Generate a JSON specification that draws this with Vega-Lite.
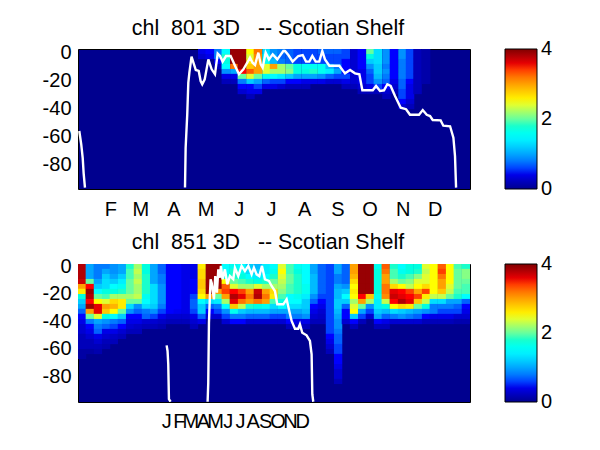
{"$schema":"https://vega.github.io/schema/vega-lite/v6.json","padding":{"left":41,"top":17,"right":0,"bottom":0},"background":"white","spacing":75,"bounds":"flush",
"config":{"font":"Liberation Sans","view":{"stroke":"black","strokeWidth":1},"title":{"font":"Liberation Sans","fontSize":21.4,"fontWeight":"normal","color":"black","anchor":"middle","offset":3,"dx":-6},"axis":{"labelFont":"Liberation Sans","labelFontSize":20,"labelColor":"black","grid":false,"domain":false,"ticks":false,"title":null,"labelOverlap":false},"legend":{"labelFont":"Liberation Sans","labelFontSize":20,"labelColor":"black"}},
"resolve":{"scale":{"color":"independent"},"legend":{"color":"independent"}},
"vconcat":[
{"title":"chl\u00a0\u00a0801 3D\u00a0\u00a0\u00a0-- Scotian Shelf","width":392,"height":140,"view":{"fill":"#00008f"},
"layer":[
{"data":{"values":[
{"d":116,"z":-1.8,"v":0.4},{"d":116,"z":-5.4,"v":0.3},{"d":123,"z":-1.8,"v":0.5},{"d":123,"z":-5.4,"v":0.4},{"d":131,"z":-1.8,"v":0.8},{"d":131,"z":-5.4,"v":0.8},{"d":131,"z":-8.9,"v":0.5},{"d":131,"z":-12.5,"v":0.2},
{"d":138,"z":-1.8,"v":1.5},{"d":138,"z":-5.4,"v":1.8},{"d":138,"z":-8.9,"v":1.7},{"d":138,"z":-12.5,"v":1.5},{"d":138,"z":-16.1,"v":0.9},{"d":138,"z":-19.6,"v":0.4},{"d":138,"z":-23.2,"v":0.2},
{"d":146,"z":-1.8,"v":3.9},{"d":146,"z":-5.4,"v":3.9},{"d":146,"z":-8.9,"v":3.9},{"d":146,"z":-12.5,"v":3.2},{"d":146,"z":-16.1,"v":1},{"d":146,"z":-19.6,"v":0.4},{"d":146,"z":-23.2,"v":0.2},
{"d":153,"z":-1.8,"v":3.9},{"d":153,"z":-5.4,"v":3.9},{"d":153,"z":-8.9,"v":3.9},{"d":153,"z":-12.5,"v":3.9},{"d":153,"z":-16.1,"v":3.5},{"d":153,"z":-19.6,"v":2},{"d":153,"z":-23.2,"v":0.8},{"d":153,"z":-26.8,"v":0.5},{"d":153,"z":-30.4,"v":0.3},
{"d":161,"z":-1.8,"v":2.5},{"d":161,"z":-5.4,"v":2.4},{"d":161,"z":-8.9,"v":2.6},{"d":161,"z":-12.5,"v":2.8},{"d":161,"z":-16.1,"v":3.3},{"d":161,"z":-19.6,"v":2.4},{"d":161,"z":-23.2,"v":1.2},{"d":161,"z":-26.8,"v":0.5},{"d":161,"z":-30.4,"v":0.4},{"d":161,"z":-33.9,"v":0.2},
{"d":168,"z":-1.8,"v":3.2},{"d":168,"z":-5.4,"v":3.1},{"d":168,"z":-8.9,"v":3},{"d":168,"z":-12.5,"v":3},{"d":168,"z":-16.1,"v":3},{"d":168,"z":-19.6,"v":2},{"d":168,"z":-23.2,"v":1},{"d":168,"z":-26.8,"v":0.6},{"d":168,"z":-30.4,"v":0.4},
{"d":176,"z":-1.8,"v":1.3},{"d":176,"z":-5.4,"v":1.6},{"d":176,"z":-8.9,"v":1.6},{"d":176,"z":-12.5,"v":2.4},{"d":176,"z":-16.1,"v":2.4},{"d":176,"z":-19.6,"v":1.6},{"d":176,"z":-23.2,"v":0.7},{"d":176,"z":-26.8,"v":0.4},
{"d":183,"z":-1.8,"v":0.9},{"d":183,"z":-5.4,"v":1},{"d":183,"z":-8.9,"v":1.1},{"d":183,"z":-12.5,"v":3},{"d":183,"z":-16.1,"v":2.2},{"d":183,"z":-19.6,"v":1.5},{"d":183,"z":-23.2,"v":0.6},{"d":183,"z":-26.8,"v":0.4},
{"d":190,"z":-1.8,"v":0.8},{"d":190,"z":-5.4,"v":0.7},{"d":190,"z":-8.9,"v":0.8},{"d":190,"z":-12.5,"v":2.2},{"d":190,"z":-16.1,"v":2.2},{"d":190,"z":-19.6,"v":1.4},{"d":190,"z":-23.2,"v":0.6},{"d":190,"z":-26.8,"v":0.3},
{"d":198,"z":-1.8,"v":0.7},{"d":198,"z":-5.4,"v":0.7},{"d":198,"z":-8.9,"v":0.7},{"d":198,"z":-12.5,"v":2},{"d":198,"z":-16.1,"v":2.1},{"d":198,"z":-19.6,"v":1.2},{"d":198,"z":-23.2,"v":0.5},{"d":198,"z":-26.8,"v":0.2},
{"d":205,"z":-1.8,"v":0.6},{"d":205,"z":-5.4,"v":0.6},{"d":205,"z":-8.9,"v":0.6},{"d":205,"z":-12.5,"v":1.7},{"d":205,"z":-16.1,"v":1.7},{"d":205,"z":-19.6,"v":1},{"d":205,"z":-23.2,"v":0.5},{"d":205,"z":-26.8,"v":0.2},
{"d":213,"z":-1.8,"v":0.6},{"d":213,"z":-5.4,"v":0.6},{"d":213,"z":-8.9,"v":0.6},{"d":213,"z":-12.5,"v":1.6},{"d":213,"z":-16.1,"v":1.7},{"d":213,"z":-19.6,"v":1},{"d":213,"z":-23.2,"v":0.4},{"d":213,"z":-26.8,"v":0.2},
{"d":220,"z":-1.8,"v":0.6},{"d":220,"z":-5.4,"v":0.6},{"d":220,"z":-8.9,"v":0.6},{"d":220,"z":-12.5,"v":1.6},{"d":220,"z":-16.1,"v":1.8},{"d":220,"z":-19.6,"v":1},{"d":220,"z":-23.2,"v":0.4},
{"d":228,"z":-1.8,"v":0.7},{"d":228,"z":-5.4,"v":0.6},{"d":228,"z":-8.9,"v":0.6},{"d":228,"z":-12.5,"v":1.6},{"d":228,"z":-16.1,"v":1.6},{"d":228,"z":-19.6,"v":0.9},{"d":228,"z":-23.2,"v":0.4},
{"d":235,"z":-1.8,"v":0.7},{"d":235,"z":-5.4,"v":0.6},{"d":235,"z":-8.9,"v":0.6},{"d":235,"z":-12.5,"v":1.1},{"d":235,"z":-16.1,"v":1.4},{"d":235,"z":-19.6,"v":0.7},{"d":235,"z":-23.2,"v":0.3},
{"d":243,"z":-1.8,"v":0.7},{"d":243,"z":-5.4,"v":0.6},{"d":243,"z":-8.9,"v":0.6},{"d":243,"z":-12.5,"v":0.8},{"d":243,"z":-16.1,"v":1},{"d":243,"z":-19.6,"v":0.6},{"d":243,"z":-23.2,"v":0.3},
{"d":250,"z":-1.8,"v":0.6},{"d":250,"z":-5.4,"v":0.6},{"d":250,"z":-8.9,"v":0.5},{"d":250,"z":-12.5,"v":0.5},{"d":250,"z":-16.1,"v":0.5},{"d":250,"z":-19.6,"v":0.6},{"d":250,"z":-23.2,"v":0.4},{"d":250,"z":-26.8,"v":0.2},
{"d":258,"z":-1.8,"v":0.3},{"d":258,"z":-5.4,"v":0.3},{"d":258,"z":-8.9,"v":0.3},{"d":258,"z":-12.5,"v":0.3},{"d":258,"z":-16.1,"v":0.3},{"d":258,"z":-19.6,"v":0.3},{"d":258,"z":-23.2,"v":0.3},{"d":258,"z":-26.8,"v":0.2},
{"d":265,"z":-1.8,"v":0.5},{"d":265,"z":-5.4,"v":0.5},{"d":265,"z":-8.9,"v":0.5},{"d":265,"z":-12.5,"v":0.5},{"d":265,"z":-16.1,"v":0.4},{"d":265,"z":-19.6,"v":0.4},{"d":265,"z":-23.2,"v":0.4},{"d":265,"z":-26.8,"v":0.3},{"d":265,"z":-30.4,"v":0.2},
{"d":273,"z":-1.8,"v":2},{"d":273,"z":-5.4,"v":1.7},{"d":273,"z":-8.9,"v":1.2},{"d":273,"z":-12.5,"v":0.9},{"d":273,"z":-16.1,"v":0.7},{"d":273,"z":-19.6,"v":0.6},{"d":273,"z":-23.2,"v":0.6},{"d":273,"z":-26.8,"v":0.4},{"d":273,"z":-30.4,"v":0.2},
{"d":280,"z":-1.8,"v":1.3},{"d":280,"z":-5.4,"v":1.3},{"d":280,"z":-8.9,"v":1.3},{"d":280,"z":-12.5,"v":1.2},{"d":280,"z":-16.1,"v":1.2},{"d":280,"z":-19.6,"v":1.1},{"d":280,"z":-23.2,"v":0.9},{"d":280,"z":-26.8,"v":0.6},{"d":280,"z":-30.4,"v":0.2},
{"d":288,"z":-1.8,"v":0.9},{"d":288,"z":-5.4,"v":0.9},{"d":288,"z":-8.9,"v":0.9},{"d":288,"z":-12.5,"v":0.8},{"d":288,"z":-16.1,"v":0.9},{"d":288,"z":-19.6,"v":0.8},{"d":288,"z":-23.2,"v":0.7},{"d":288,"z":-26.8,"v":0.5},{"d":288,"z":-30.4,"v":0.3},{"d":288,"z":-33.9,"v":0.2},
{"d":295,"z":-1.8,"v":0.5},{"d":295,"z":-5.4,"v":0.5},{"d":295,"z":-8.9,"v":0.5},{"d":295,"z":-12.5,"v":0.5},{"d":295,"z":-16.1,"v":0.5},{"d":295,"z":-19.6,"v":0.5},{"d":295,"z":-23.2,"v":0.4},{"d":295,"z":-26.8,"v":0.3},{"d":295,"z":-30.4,"v":0.2},
{"d":303,"z":-1.8,"v":0.9},{"d":303,"z":-5.4,"v":0.9},{"d":303,"z":-8.9,"v":0.8},{"d":303,"z":-12.5,"v":0.8},{"d":303,"z":-16.1,"v":0.8},{"d":303,"z":-19.6,"v":0.8},{"d":303,"z":-23.2,"v":0.7},{"d":303,"z":-26.8,"v":0.7},{"d":303,"z":-30.4,"v":0.6},{"d":303,"z":-33.9,"v":0.6},{"d":303,"z":-37.5,"v":0.5},{"d":303,"z":-41.1,"v":0.3},
{"d":310,"z":-1.8,"v":0.6},{"d":310,"z":-5.4,"v":0.6},{"d":310,"z":-8.9,"v":0.6},{"d":310,"z":-12.5,"v":0.6},{"d":310,"z":-16.1,"v":0.6},{"d":310,"z":-19.6,"v":0.6},{"d":310,"z":-23.2,"v":0.5},{"d":310,"z":-26.8,"v":0.4},{"d":310,"z":-30.4,"v":0.4},{"d":310,"z":-33.9,"v":0.4},{"d":310,"z":-37.5,"v":0.3},{"d":310,"z":-41.1,"v":0.2},
{"d":317,"z":-1.8,"v":0.2},{"d":317,"z":-5.4,"v":0.2},{"d":317,"z":-8.9,"v":0.2},{"d":317,"z":-12.5,"v":0.2},{"d":317,"z":-16.1,"v":0.2},{"d":317,"z":-19.6,"v":0.2},{"d":317,"z":-23.2,"v":0.2},{"d":317,"z":-26.8,"v":0.2},{"d":317,"z":-30.4,"v":0.2},
{"d":325,"z":-1.8,"v":0.12},{"d":325,"z":-5.4,"v":0.12},{"d":325,"z":-8.9,"v":0.12},{"d":325,"z":-12.5,"v":0.12},{"d":325,"z":-16.1,"v":0.12},{"d":325,"z":-19.6,"v":0.12},{"d":325,"z":-23.2,"v":0.12}
]},"mark":{"type":"rect","width":8.5,"height":5.2,"clip":true},"encoding":{
"x":{"field":"d","type":"quantitative","scale":{"domain":[0,366],"nice":false,"zero":false},"axis":{"values":[32,60,91,121,152,182,213,244,274,305,335],"tickCount":30,"labelExpr":"{'32':'F','60':'M','91':'A','121':'M','152':'J','182':'J','213':'A','244':'S','274':'O','305':'N','335':'D'}[datum.value]","labelPadding":10,"labelOverlap":false,"labelFlush":false,"labelOffset":-2,"labelBound":false}},
"y":{"field":"z","type":"quantitative","scale":{"domain":[-100,0],"nice":false,"zero":false},"axis":{"values":[0,-20,-40,-60,-80],"tickCount":30,"labelExpr":"''+datum.value","labelPadding":7,"labelOverlap":false,"labelFlush":false,"labelOffset":3,"labelBound":false}},
"color":{"field":"v","type":"quantitative","scale":{"domain":[0,0.5,1.5,2.5,3.5,4],"range":["#00008f","#0000ff","#00ffff","#ffff00","#ff0000","#800000"],"clamp":true},"legend":{"title":null,"orient":"none","legendX":427,"legendY":0,"gradientLength":140,"gradientThickness":32,"values":[0,2,4],"gradientStrokeColor":"black","gradientStrokeWidth":1,"labelOffset":4,"labelOverlap":false,"encoding":{"labels":{"baseline":{"value":"middle"}}}}}}},
{"data":{"values":[
{"s":1,"d":1.2,"z":-58.6},{"s":1,"d":3,"z":-68},{"s":1,"d":4.4,"z":-78},{"s":1,"d":5.3,"z":-89},{"s":1,"d":6.5,"z":-99},
{"s":2,"d":99.9,"z":-99},{"s":2,"d":100.5,"z":-70.5},{"s":2,"d":102,"z":-46.7},{"s":2,"d":103,"z":-24},{"s":2,"d":104,"z":-16.9},{"s":2,"d":106,"z":-5.5},{"s":2,"d":108.3,"z":-11},{"s":2,"d":110,"z":-15},{"s":2,"d":112.7,"z":-15.7},{"s":2,"d":114.5,"z":-22.9},{"s":2,"d":116,"z":-25.2},{"s":2,"d":118.3,"z":-21.7},{"s":2,"d":121.7,"z":-7.4},{"s":2,"d":124.8,"z":-14.5},{"s":2,"d":127.9,"z":-18},{"s":2,"d":130.4,"z":-3.3},{"s":2,"d":132.6,"z":-5},{"s":2,"d":135,"z":-9},{"s":2,"d":138.2,"z":-5},{"s":2,"d":142.5,"z":-5},{"s":2,"d":146.6,"z":-12},{"s":2,"d":150.3,"z":-18},{"s":2,"d":154.4,"z":-14.5},{"s":2,"d":158,"z":-9.8},{"s":2,"d":160.6,"z":-6.2},{"s":2,"d":163,"z":-9.8},{"s":2,"d":165.3,"z":-11.4},{"s":2,"d":168.4,"z":-2.6},{"s":2,"d":170.6,"z":-11},{"s":2,"d":172.4,"z":-13.3},{"s":2,"d":175.2,"z":-2.6},{"s":2,"d":178.3,"z":-7.4},{"s":2,"d":181.8,"z":-3.8},{"s":2,"d":186.1,"z":-7.4},{"s":2,"d":191.7,"z":-1.4},{"s":2,"d":193.3,"z":-1.4},{"s":2,"d":196.4,"z":-4.3},{"s":2,"d":200.4,"z":-9},{"s":2,"d":205.7,"z":-5},{"s":2,"d":209.8,"z":-4.3},{"s":2,"d":212.9,"z":-9},{"s":2,"d":216,"z":-9},{"s":2,"d":218.8,"z":-5},{"s":2,"d":221.9,"z":-9},{"s":2,"d":225.3,"z":-9},{"s":2,"d":228.1,"z":-1.4},{"s":2,"d":230.6,"z":-7.4},{"s":2,"d":234.7,"z":-12},{"s":2,"d":244,"z":-12},{"s":2,"d":249.3,"z":-17.4},{"s":2,"d":254,"z":-15},{"s":2,"d":258.6,"z":-17.4},{"s":2,"d":262.7,"z":-18},{"s":2,"d":265.5,"z":-29.5},{"s":2,"d":275.2,"z":-29.5},{"s":2,"d":278.3,"z":-26.4},{"s":2,"d":282,"z":-30},{"s":2,"d":285.7,"z":-29.5},{"s":2,"d":288.8,"z":-25.2},{"s":2,"d":291.9,"z":-26.4},{"s":2,"d":296,"z":-33.6},{"s":2,"d":301.3,"z":-41.9},{"s":2,"d":306.3,"z":-43},{"s":2,"d":310,"z":-47},{"s":2,"d":318.4,"z":-47},{"s":2,"d":321.9,"z":-43.6},{"s":2,"d":325.6,"z":-47},{"s":2,"d":328.7,"z":-47.9},{"s":2,"d":331.2,"z":-50.7},{"s":2,"d":338.6,"z":-51},{"s":2,"d":341.1,"z":-54.8},{"s":2,"d":347.4,"z":-55.2},{"s":2,"d":350.5,"z":-63.3},{"s":2,"d":352,"z":-76.4},{"s":2,"d":353,"z":-99}
]},"mark":{"type":"line","color":"white","strokeWidth":2.4,"clip":true},"encoding":{"x":{"field":"d","type":"quantitative"},"y":{"field":"z","type":"quantitative"},"detail":{"field":"s"}}}
]},
{"title":"chl\u00a0\u00a0851 3D\u00a0\u00a0\u00a0-- Scotian Shelf","width":392,"height":138,"view":{"fill":"#00008f"},
"layer":[
{"data":{"values":[
{"d":-206,"z":-1.8,"v":3.8},{"d":-206,"z":-5.4,"v":3.8},{"d":-206,"z":-9.1,"v":3.8},{"d":-206,"z":-12.7,"v":3.7},{"d":-206,"z":-16.3,"v":3},{"d":-206,"z":-19.9,"v":2.6},{"d":-206,"z":-23.6,"v":1.7},{"d":-206,"z":-27.2,"v":1.2},{"d":-206,"z":-30.8,"v":1},{"d":-206,"z":-34.4,"v":0.7},{"d":-206,"z":-38,"v":0.5},{"d":-206,"z":-41.7,"v":0.4},{"d":-206,"z":-45.3,"v":0.3},{"d":-206,"z":-48.9,"v":0.3},{"d":-206,"z":-52.5,"v":0.2},{"d":-206,"z":-56.2,"v":0.2},{"d":-206,"z":-59.8,"v":0.2},{"d":-206,"z":-63.4,"v":0.1},{"d":-206,"z":-67,"v":0.1},
{"d":-187,"z":-1.8,"v":1},{"d":-187,"z":-5.4,"v":1},{"d":-187,"z":-9.1,"v":1},{"d":-187,"z":-12.7,"v":2},{"d":-187,"z":-16.3,"v":3.5},{"d":-187,"z":-19.9,"v":3.9},{"d":-187,"z":-23.6,"v":3.8},{"d":-187,"z":-27.2,"v":3.5},{"d":-187,"z":-30.8,"v":3.9},{"d":-187,"z":-34.4,"v":3},{"d":-187,"z":-38,"v":2},{"d":-187,"z":-41.7,"v":0.8},{"d":-187,"z":-45.3,"v":0.5},{"d":-187,"z":-48.9,"v":0.4},{"d":-187,"z":-52.5,"v":0.3},{"d":-187,"z":-56.2,"v":0.2},{"d":-187,"z":-59.8,"v":0.2},{"d":-187,"z":-63.4,"v":0.1},
{"d":-167,"z":-1.8,"v":0.8},{"d":-167,"z":-5.4,"v":0.8},{"d":-167,"z":-9.1,"v":0.8},{"d":-167,"z":-12.7,"v":1},{"d":-167,"z":-16.3,"v":1.2},{"d":-167,"z":-19.9,"v":1.5},{"d":-167,"z":-23.6,"v":2},{"d":-167,"z":-27.2,"v":2.5},{"d":-167,"z":-30.8,"v":3.6},{"d":-167,"z":-34.4,"v":3.6},{"d":-167,"z":-38,"v":2.4},{"d":-167,"z":-41.7,"v":1},{"d":-167,"z":-45.3,"v":0.8},{"d":-167,"z":-48.9,"v":0.7},{"d":-167,"z":-52.5,"v":0.4},{"d":-167,"z":-56.2,"v":0.3},{"d":-167,"z":-59.8,"v":0.2},{"d":-167,"z":-63.4,"v":0.15},
{"d":-147,"z":-1.8,"v":0.8},{"d":-147,"z":-5.4,"v":1},{"d":-147,"z":-9.1,"v":1.2},{"d":-147,"z":-12.7,"v":1.3},{"d":-147,"z":-16.3,"v":1.3},{"d":-147,"z":-19.9,"v":1.7},{"d":-147,"z":-23.6,"v":1.9},{"d":-147,"z":-27.2,"v":2.4},{"d":-147,"z":-30.8,"v":3},{"d":-147,"z":-34.4,"v":2.8},{"d":-147,"z":-38,"v":1.7},{"d":-147,"z":-41.7,"v":0.9},{"d":-147,"z":-45.3,"v":0.7},{"d":-147,"z":-48.9,"v":0.4},{"d":-147,"z":-52.5,"v":0.3},{"d":-147,"z":-56.2,"v":0.2},{"d":-147,"z":-59.8,"v":0.15},
{"d":-128,"z":-1.8,"v":0.9},{"d":-128,"z":-5.4,"v":0.9},{"d":-128,"z":-9.1,"v":1},{"d":-128,"z":-12.7,"v":1.2},{"d":-128,"z":-16.3,"v":1.5},{"d":-128,"z":-19.9,"v":1.7},{"d":-128,"z":-23.6,"v":2.2},{"d":-128,"z":-27.2,"v":2.7},{"d":-128,"z":-30.8,"v":2.9},{"d":-128,"z":-34.4,"v":2.5},{"d":-128,"z":-38,"v":1.5},{"d":-128,"z":-41.7,"v":0.8},{"d":-128,"z":-45.3,"v":0.6},{"d":-128,"z":-48.9,"v":0.4},{"d":-128,"z":-52.5,"v":0.25},{"d":-128,"z":-56.2,"v":0.2},
{"d":-108,"z":-1.8,"v":1},{"d":-108,"z":-5.4,"v":1},{"d":-108,"z":-9.1,"v":1.2},{"d":-108,"z":-12.7,"v":1.4},{"d":-108,"z":-16.3,"v":1.6},{"d":-108,"z":-19.9,"v":1.8},{"d":-108,"z":-23.6,"v":2.2},{"d":-108,"z":-27.2,"v":2.6},{"d":-108,"z":-30.8,"v":2.6},{"d":-108,"z":-34.4,"v":2},{"d":-108,"z":-38,"v":1.2},{"d":-108,"z":-41.7,"v":0.7},{"d":-108,"z":-45.3,"v":0.5},{"d":-108,"z":-48.9,"v":0.3},{"d":-108,"z":-52.5,"v":0.2},
{"d":-88,"z":-1.8,"v":1.8},{"d":-88,"z":-5.4,"v":1.9},{"d":-88,"z":-9.1,"v":1.9},{"d":-88,"z":-12.7,"v":2},{"d":-88,"z":-16.3,"v":2},{"d":-88,"z":-19.9,"v":2},{"d":-88,"z":-23.6,"v":2.2},{"d":-88,"z":-27.2,"v":2},{"d":-88,"z":-30.8,"v":1.3},{"d":-88,"z":-34.4,"v":0.9},{"d":-88,"z":-38,"v":0.5},{"d":-88,"z":-41.7,"v":0.4},{"d":-88,"z":-45.3,"v":0.3},{"d":-88,"z":-48.9,"v":0.2},
{"d":-69,"z":-1.8,"v":2.2},{"d":-69,"z":-5.4,"v":2.3},{"d":-69,"z":-9.1,"v":2.2},{"d":-69,"z":-12.7,"v":2.3},{"d":-69,"z":-16.3,"v":2.2},{"d":-69,"z":-19.9,"v":2.2},{"d":-69,"z":-23.6,"v":2.3},{"d":-69,"z":-27.2,"v":2},{"d":-69,"z":-30.8,"v":0.9},{"d":-69,"z":-34.4,"v":0.7},{"d":-69,"z":-38,"v":0.5},{"d":-69,"z":-41.7,"v":0.4},{"d":-69,"z":-45.3,"v":0.25},{"d":-69,"z":-48.9,"v":0.2},
{"d":-49,"z":-1.8,"v":1.7},{"d":-49,"z":-5.4,"v":1.7},{"d":-49,"z":-9.1,"v":1.8},{"d":-49,"z":-12.7,"v":1.8},{"d":-49,"z":-16.3,"v":1.8},{"d":-49,"z":-19.9,"v":1.8},{"d":-49,"z":-23.6,"v":1.6},{"d":-49,"z":-27.2,"v":1.5},{"d":-49,"z":-30.8,"v":1.3},{"d":-49,"z":-34.4,"v":0.8},{"d":-49,"z":-38,"v":0.7},{"d":-49,"z":-41.7,"v":0.3},{"d":-49,"z":-45.3,"v":0.2},
{"d":-29,"z":-1.8,"v":1},{"d":-29,"z":-5.4,"v":1},{"d":-29,"z":-9.1,"v":1},{"d":-29,"z":-12.7,"v":1},{"d":-29,"z":-16.3,"v":1.3},{"d":-29,"z":-19.9,"v":1.3},{"d":-29,"z":-23.6,"v":1.3},{"d":-29,"z":-27.2,"v":1.3},{"d":-29,"z":-30.8,"v":1.2},{"d":-29,"z":-34.4,"v":0.9},{"d":-29,"z":-38,"v":0.6},{"d":-29,"z":-41.7,"v":0.3},{"d":-29,"z":-45.3,"v":0.2},
{"d":-10,"z":-1.8,"v":0.7},{"d":-10,"z":-5.4,"v":0.7},{"d":-10,"z":-9.1,"v":0.8},{"d":-10,"z":-12.7,"v":0.8},{"d":-10,"z":-16.3,"v":0.9},{"d":-10,"z":-19.9,"v":0.9},{"d":-10,"z":-23.6,"v":0.9},{"d":-10,"z":-27.2,"v":0.9},{"d":-10,"z":-30.8,"v":0.8},{"d":-10,"z":-34.4,"v":0.6},{"d":-10,"z":-38,"v":0.4},{"d":-10,"z":-41.7,"v":0.25},{"d":-10,"z":-45.3,"v":0.15},
{"d":10,"z":-1.8,"v":0.5},{"d":10,"z":-5.4,"v":0.5},{"d":10,"z":-9.1,"v":0.5},{"d":10,"z":-12.7,"v":0.5},{"d":10,"z":-16.3,"v":0.5},{"d":10,"z":-19.9,"v":0.5},{"d":10,"z":-23.6,"v":0.5},{"d":10,"z":-27.2,"v":0.5},{"d":10,"z":-30.8,"v":0.5},{"d":10,"z":-34.4,"v":0.5},{"d":10,"z":-38,"v":0.3},{"d":10,"z":-41.7,"v":0.2},
{"d":29,"z":-1.8,"v":0.5},{"d":29,"z":-5.4,"v":0.5},{"d":29,"z":-9.1,"v":0.5},{"d":29,"z":-12.7,"v":0.5},{"d":29,"z":-16.3,"v":0.5},{"d":29,"z":-19.9,"v":0.5},{"d":29,"z":-23.6,"v":0.5},{"d":29,"z":-27.2,"v":0.5},{"d":29,"z":-30.8,"v":0.5},{"d":29,"z":-34.4,"v":0.45},{"d":29,"z":-38,"v":0.3},{"d":29,"z":-41.7,"v":0.2},
{"d":49,"z":-1.8,"v":0.4},{"d":49,"z":-5.4,"v":0.4},{"d":49,"z":-9.1,"v":0.4},{"d":49,"z":-12.7,"v":0.4},{"d":49,"z":-16.3,"v":0.4},{"d":49,"z":-19.9,"v":0.4},{"d":49,"z":-23.6,"v":0.4},{"d":49,"z":-27.2,"v":0.4},{"d":49,"z":-30.8,"v":0.4},{"d":49,"z":-34.4,"v":0.4},{"d":49,"z":-38,"v":0.3},{"d":49,"z":-41.7,"v":0.2},
{"d":69,"z":-1.8,"v":0.4},{"d":69,"z":-5.4,"v":0.4},{"d":69,"z":-9.1,"v":0.4},{"d":69,"z":-12.7,"v":0.5},{"d":69,"z":-16.3,"v":0.5},{"d":69,"z":-19.9,"v":0.5},{"d":69,"z":-23.6,"v":0.6},{"d":69,"z":-27.2,"v":0.7},{"d":69,"z":-30.8,"v":0.7},{"d":69,"z":-34.4,"v":0.6},{"d":69,"z":-38,"v":0.4},{"d":69,"z":-41.7,"v":0.3},{"d":69,"z":-45.3,"v":0.2},
{"d":88,"z":-1.8,"v":2.6},{"d":88,"z":-5.4,"v":2.7},{"d":88,"z":-9.1,"v":2.7},{"d":88,"z":-12.7,"v":2.8},{"d":88,"z":-16.3,"v":2.8},{"d":88,"z":-19.9,"v":2.7},{"d":88,"z":-23.6,"v":2.5},{"d":88,"z":-27.2,"v":1.5},{"d":88,"z":-30.8,"v":1.2},{"d":88,"z":-34.4,"v":1.2},{"d":88,"z":-38,"v":0.7},{"d":88,"z":-41.7,"v":0.4},
{"d":108,"z":-1.8,"v":3.9},{"d":108,"z":-5.4,"v":3.9},{"d":108,"z":-9.1,"v":3.9},{"d":108,"z":-12.7,"v":3.9},{"d":108,"z":-16.3,"v":3.9},{"d":108,"z":-19.9,"v":3.9},{"d":108,"z":-23.6,"v":3},{"d":108,"z":-27.2,"v":1.3},{"d":108,"z":-30.8,"v":0.7},{"d":108,"z":-34.4,"v":0.5},{"d":108,"z":-38,"v":0.3},
{"d":128,"z":-1.8,"v":3.9},{"d":128,"z":-5.4,"v":3.9},{"d":128,"z":-9.1,"v":3.9},{"d":128,"z":-12.7,"v":3.9},{"d":128,"z":-16.3,"v":3.9},{"d":128,"z":-19.9,"v":3},{"d":128,"z":-23.6,"v":2},{"d":128,"z":-27.2,"v":1.4},{"d":128,"z":-30.8,"v":0.8},{"d":128,"z":-34.4,"v":0.6},{"d":128,"z":-38,"v":0.3},
{"d":147,"z":-1.8,"v":1.5},{"d":147,"z":-5.4,"v":1.5},{"d":147,"z":-9.1,"v":1.7},{"d":147,"z":-12.7,"v":2.5},{"d":147,"z":-16.3,"v":3.3},{"d":147,"z":-19.9,"v":3.4},{"d":147,"z":-23.6,"v":3},{"d":147,"z":-27.2,"v":2.2},{"d":147,"z":-30.8,"v":1.5},{"d":147,"z":-34.4,"v":0.9},{"d":147,"z":-38,"v":0.6},{"d":147,"z":-41.7,"v":0.3},
{"d":167,"z":-1.8,"v":1.6},{"d":167,"z":-5.4,"v":1.8},{"d":167,"z":-9.1,"v":1.8},{"d":167,"z":-12.7,"v":2},{"d":167,"z":-16.3,"v":2.4},{"d":167,"z":-19.9,"v":3.5},{"d":167,"z":-23.6,"v":3.8},{"d":167,"z":-27.2,"v":3.6},{"d":167,"z":-30.8,"v":2.8},{"d":167,"z":-34.4,"v":1.6},{"d":167,"z":-38,"v":0.8},{"d":167,"z":-41.7,"v":0.5},
{"d":187,"z":-1.8,"v":1.5},{"d":187,"z":-5.4,"v":1.6},{"d":187,"z":-9.1,"v":1.7},{"d":187,"z":-12.7,"v":1.9},{"d":187,"z":-16.3,"v":2.2},{"d":187,"z":-19.9,"v":3.4},{"d":187,"z":-23.6,"v":3.6},{"d":187,"z":-27.2,"v":3.2},{"d":187,"z":-30.8,"v":2.3},{"d":187,"z":-34.4,"v":1.2},{"d":187,"z":-38,"v":0.8},{"d":187,"z":-41.7,"v":0.5},
{"d":206,"z":-1.8,"v":1.2},{"d":206,"z":-5.4,"v":1.3},{"d":206,"z":-9.1,"v":1.5},{"d":206,"z":-12.7,"v":1.8},{"d":206,"z":-16.3,"v":2.2},{"d":206,"z":-19.9,"v":3},{"d":206,"z":-23.6,"v":3.2},{"d":206,"z":-27.2,"v":3},{"d":206,"z":-30.8,"v":1.8},{"d":206,"z":-34.4,"v":1.1},{"d":206,"z":-38,"v":0.7},{"d":206,"z":-41.7,"v":0.3},
{"d":226,"z":-1.8,"v":1.1},{"d":226,"z":-5.4,"v":1.2},{"d":226,"z":-9.1,"v":1.4},{"d":226,"z":-12.7,"v":1.7},{"d":226,"z":-16.3,"v":2.4},{"d":226,"z":-19.9,"v":3.7},{"d":226,"z":-23.6,"v":3.8},{"d":226,"z":-27.2,"v":3.2},{"d":226,"z":-30.8,"v":1.7},{"d":226,"z":-34.4,"v":1.1},{"d":226,"z":-38,"v":0.7},{"d":226,"z":-41.7,"v":0.3},
{"d":246,"z":-1.8,"v":1.4},{"d":246,"z":-5.4,"v":1.4},{"d":246,"z":-9.1,"v":1.5},{"d":246,"z":-12.7,"v":1.8},{"d":246,"z":-16.3,"v":2.2},{"d":246,"z":-19.9,"v":3},{"d":246,"z":-23.6,"v":3.2},{"d":246,"z":-27.2,"v":3},{"d":246,"z":-30.8,"v":1.6},{"d":246,"z":-34.4,"v":1.1},{"d":246,"z":-38,"v":0.7},{"d":246,"z":-41.7,"v":0.3},
{"d":265,"z":-1.8,"v":1.5},{"d":265,"z":-5.4,"v":1.6},{"d":265,"z":-9.1,"v":1.8},{"d":265,"z":-12.7,"v":2},{"d":265,"z":-16.3,"v":2.2},{"d":265,"z":-19.9,"v":2.7},{"d":265,"z":-23.6,"v":2.6},{"d":265,"z":-27.2,"v":1.9},{"d":265,"z":-30.8,"v":1.3},{"d":265,"z":-34.4,"v":1},{"d":265,"z":-38,"v":0.6},{"d":265,"z":-41.7,"v":0.3},
{"d":285,"z":-1.8,"v":2.4},{"d":285,"z":-5.4,"v":2.5},{"d":285,"z":-9.1,"v":2.4},{"d":285,"z":-12.7,"v":2.3},{"d":285,"z":-16.3,"v":2.2},{"d":285,"z":-19.9,"v":2.1},{"d":285,"z":-23.6,"v":1.9},{"d":285,"z":-27.2,"v":1.7},{"d":285,"z":-30.8,"v":1.5},{"d":285,"z":-34.4,"v":1},{"d":285,"z":-38,"v":0.6},{"d":285,"z":-41.7,"v":0.3},
{"d":305,"z":-1.8,"v":1.9},{"d":305,"z":-5.4,"v":1.9},{"d":305,"z":-9.1,"v":2},{"d":305,"z":-12.7,"v":2},{"d":305,"z":-16.3,"v":1.9},{"d":305,"z":-19.9,"v":1.9},{"d":305,"z":-23.6,"v":1.5},{"d":305,"z":-27.2,"v":1.5},{"d":305,"z":-30.8,"v":1.3},{"d":305,"z":-34.4,"v":1},{"d":305,"z":-38,"v":0.8},{"d":305,"z":-41.7,"v":0.5},{"d":305,"z":-45.3,"v":0.2},
{"d":324,"z":-1.8,"v":1.6},{"d":324,"z":-5.4,"v":1.7},{"d":324,"z":-9.1,"v":1.8},{"d":324,"z":-12.7,"v":1.8},{"d":324,"z":-16.3,"v":1.8},{"d":324,"z":-19.9,"v":1.8},{"d":324,"z":-23.6,"v":1.6},{"d":324,"z":-27.2,"v":1.5},{"d":324,"z":-30.8,"v":1.3},{"d":324,"z":-34.4,"v":1},{"d":324,"z":-38,"v":0.8},{"d":324,"z":-41.7,"v":0.4},{"d":324,"z":-45.3,"v":0.2},
{"d":344,"z":-1.8,"v":1.5},{"d":344,"z":-5.4,"v":1.5},{"d":344,"z":-9.1,"v":1.5},{"d":344,"z":-12.7,"v":1.5},{"d":344,"z":-16.3,"v":1.6},{"d":344,"z":-19.9,"v":1.6},{"d":344,"z":-23.6,"v":1.4},{"d":344,"z":-27.2,"v":1.2},{"d":344,"z":-30.8,"v":1.2},{"d":344,"z":-34.4,"v":1.1},{"d":344,"z":-38,"v":0.9},{"d":344,"z":-41.7,"v":0.4},{"d":344,"z":-45.3,"v":0.2},
{"d":364,"z":-1.8,"v":1},{"d":364,"z":-5.4,"v":1},{"d":364,"z":-9.1,"v":1.1},{"d":364,"z":-12.7,"v":1.1},{"d":364,"z":-16.3,"v":1.1},{"d":364,"z":-19.9,"v":1.1},{"d":364,"z":-23.6,"v":0.9},{"d":364,"z":-27.2,"v":0.7},{"d":364,"z":-30.8,"v":0.5},{"d":364,"z":-34.4,"v":0.4},{"d":364,"z":-38,"v":0.3},{"d":364,"z":-41.7,"v":0.2},
{"d":383,"z":-1.8,"v":0.7},{"d":383,"z":-5.4,"v":0.7},{"d":383,"z":-9.1,"v":0.7},{"d":383,"z":-12.7,"v":0.7},{"d":383,"z":-16.3,"v":0.7},{"d":383,"z":-19.9,"v":0.7},{"d":383,"z":-23.6,"v":0.6},{"d":383,"z":-27.2,"v":0.5},{"d":383,"z":-30.8,"v":0.4},{"d":383,"z":-34.4,"v":0.3},{"d":383,"z":-38,"v":0.25},{"d":383,"z":-41.7,"v":0.2},
{"d":403,"z":-1.8,"v":0.6},{"d":403,"z":-5.4,"v":0.6},{"d":403,"z":-9.1,"v":0.6},{"d":403,"z":-12.7,"v":0.6},{"d":403,"z":-16.3,"v":0.6},{"d":403,"z":-19.9,"v":0.6},{"d":403,"z":-23.6,"v":0.6},{"d":403,"z":-27.2,"v":0.6},{"d":403,"z":-30.8,"v":0.6},{"d":403,"z":-34.4,"v":0.6},{"d":403,"z":-38,"v":0.6},{"d":403,"z":-41.7,"v":0.6},{"d":403,"z":-45.3,"v":0.6},{"d":403,"z":-48.9,"v":0.6},{"d":403,"z":-52.5,"v":0.5},{"d":403,"z":-56.2,"v":0.4},{"d":403,"z":-59.8,"v":0.3},{"d":403,"z":-63.4,"v":0.2},
{"d":423,"z":-1.8,"v":1},{"d":423,"z":-5.4,"v":1},{"d":423,"z":-9.1,"v":0.8},{"d":423,"z":-12.7,"v":0.8},{"d":423,"z":-16.3,"v":1},{"d":423,"z":-19.9,"v":1.1},{"d":423,"z":-23.6,"v":1.1},{"d":423,"z":-27.2,"v":1.2},{"d":423,"z":-30.8,"v":1.2},{"d":423,"z":-34.4,"v":1.1},{"d":423,"z":-38,"v":1},{"d":423,"z":-41.7,"v":0.9},{"d":423,"z":-45.3,"v":0.9},{"d":423,"z":-48.9,"v":0.8},{"d":423,"z":-52.5,"v":0.7},{"d":423,"z":-56.2,"v":0.7},{"d":423,"z":-59.8,"v":0.6},{"d":423,"z":-63.4,"v":0.6},{"d":423,"z":-67,"v":0.5},{"d":423,"z":-70.7,"v":0.5},{"d":423,"z":-74.3,"v":0.4},{"d":423,"z":-77.9,"v":0.3},{"d":423,"z":-81.5,"v":0.3},{"d":423,"z":-85.1,"v":0.2},
{"d":442,"z":-1.8,"v":0.7},{"d":442,"z":-5.4,"v":0.7},{"d":442,"z":-9.1,"v":0.7},{"d":442,"z":-12.7,"v":0.7},{"d":442,"z":-16.3,"v":0.9},{"d":442,"z":-19.9,"v":1.2},{"d":442,"z":-23.6,"v":1.5},{"d":442,"z":-27.2,"v":1.2},{"d":442,"z":-30.8,"v":0.7},{"d":442,"z":-34.4,"v":0.5},{"d":442,"z":-38,"v":0.5},{"d":442,"z":-41.7,"v":0.3},
{"d":462,"z":-1.8,"v":3},{"d":462,"z":-5.4,"v":3},{"d":462,"z":-9.1,"v":2.9},{"d":462,"z":-12.7,"v":2.7},{"d":462,"z":-16.3,"v":2.5},{"d":462,"z":-19.9,"v":2.6},{"d":462,"z":-23.6,"v":2.5},{"d":462,"z":-27.2,"v":2.2},{"d":462,"z":-30.8,"v":2.4},{"d":462,"z":-34.4,"v":2.5},{"d":462,"z":-38,"v":1.2},{"d":462,"z":-41.7,"v":0.5},{"d":462,"z":-45.3,"v":0.2},
{"d":482,"z":-1.8,"v":3.9},{"d":482,"z":-5.4,"v":3.9},{"d":482,"z":-9.1,"v":3.9},{"d":482,"z":-12.7,"v":3.9},{"d":482,"z":-16.3,"v":3.9},{"d":482,"z":-19.9,"v":3.9},{"d":482,"z":-23.6,"v":3.5},{"d":482,"z":-27.2,"v":3},{"d":482,"z":-30.8,"v":2},{"d":482,"z":-34.4,"v":1},{"d":482,"z":-38,"v":0.6},{"d":482,"z":-41.7,"v":0.2},
{"d":501,"z":-1.8,"v":3.9},{"d":501,"z":-5.4,"v":3.9},{"d":501,"z":-9.1,"v":3.9},{"d":501,"z":-12.7,"v":3.9},{"d":501,"z":-16.3,"v":3.9},{"d":501,"z":-19.9,"v":3.9},{"d":501,"z":-23.6,"v":2.8},{"d":501,"z":-27.2,"v":2.2},{"d":501,"z":-30.8,"v":0.9},{"d":501,"z":-34.4,"v":0.6},{"d":501,"z":-38,"v":0.3},
{"d":521,"z":-1.8,"v":1.6},{"d":521,"z":-5.4,"v":1.7},{"d":521,"z":-9.1,"v":1.7},{"d":521,"z":-12.7,"v":1.7},{"d":521,"z":-16.3,"v":1.7},{"d":521,"z":-19.9,"v":1.7},{"d":521,"z":-23.6,"v":1.6},{"d":521,"z":-27.2,"v":1.4},{"d":521,"z":-30.8,"v":1.4},{"d":521,"z":-34.4,"v":1.2},{"d":521,"z":-38,"v":1},{"d":521,"z":-41.7,"v":0.5},{"d":521,"z":-45.3,"v":0.2},
{"d":540,"z":-1.8,"v":3.3},{"d":540,"z":-5.4,"v":3.2},{"d":540,"z":-9.1,"v":3},{"d":540,"z":-12.7,"v":3},{"d":540,"z":-16.3,"v":3.2},{"d":540,"z":-19.9,"v":3.2},{"d":540,"z":-23.6,"v":3.1},{"d":540,"z":-27.2,"v":2.3},{"d":540,"z":-30.8,"v":1.7},{"d":540,"z":-34.4,"v":1.1},{"d":540,"z":-38,"v":0.7},{"d":540,"z":-41.7,"v":0.4},{"d":540,"z":-45.3,"v":0.2},
{"d":560,"z":-1.8,"v":1.8},{"d":560,"z":-5.4,"v":1.9},{"d":560,"z":-9.1,"v":1.9},{"d":560,"z":-12.7,"v":2.2},{"d":560,"z":-16.3,"v":2.7},{"d":560,"z":-19.9,"v":3.6},{"d":560,"z":-23.6,"v":3.7},{"d":560,"z":-27.2,"v":3.5},{"d":560,"z":-30.8,"v":2.5},{"d":560,"z":-34.4,"v":1.3},{"d":560,"z":-38,"v":0.8},{"d":560,"z":-41.7,"v":0.3},
{"d":580,"z":-1.8,"v":1.5},{"d":580,"z":-5.4,"v":1.6},{"d":580,"z":-9.1,"v":1.8},{"d":580,"z":-12.7,"v":2},{"d":580,"z":-16.3,"v":2.5},{"d":580,"z":-19.9,"v":3.5},{"d":580,"z":-23.6,"v":3.6},{"d":580,"z":-27.2,"v":3.8},{"d":580,"z":-30.8,"v":2.7},{"d":580,"z":-34.4,"v":1.2},{"d":580,"z":-38,"v":0.9},{"d":580,"z":-41.7,"v":0.3},
{"d":599,"z":-1.8,"v":1.7},{"d":599,"z":-5.4,"v":1.7},{"d":599,"z":-9.1,"v":1.9},{"d":599,"z":-12.7,"v":2.1},{"d":599,"z":-16.3,"v":2.3},{"d":599,"z":-19.9,"v":3.4},{"d":599,"z":-23.6,"v":3.5},{"d":599,"z":-27.2,"v":3.6},{"d":599,"z":-30.8,"v":2.6},{"d":599,"z":-34.4,"v":1.1},{"d":599,"z":-38,"v":0.8},{"d":599,"z":-41.7,"v":0.3},
{"d":619,"z":-1.8,"v":1.7},{"d":619,"z":-5.4,"v":1.8},{"d":619,"z":-9.1,"v":2.1},{"d":619,"z":-12.7,"v":2.4},{"d":619,"z":-16.3,"v":2.5},{"d":619,"z":-19.9,"v":3},{"d":619,"z":-23.6,"v":3.4},{"d":619,"z":-27.2,"v":2.8},{"d":619,"z":-30.8,"v":2},{"d":619,"z":-34.4,"v":1},{"d":619,"z":-38,"v":0.7},{"d":619,"z":-41.7,"v":0.3},
{"d":639,"z":-1.8,"v":2.4},{"d":639,"z":-5.4,"v":2.3},{"d":639,"z":-9.1,"v":2.4},{"d":639,"z":-12.7,"v":2.4},{"d":639,"z":-16.3,"v":2.7},{"d":639,"z":-19.9,"v":3.4},{"d":639,"z":-23.6,"v":2.6},{"d":639,"z":-27.2,"v":2.3},{"d":639,"z":-30.8,"v":1.7},{"d":639,"z":-34.4,"v":0.9},{"d":639,"z":-38,"v":0.5},{"d":639,"z":-41.7,"v":0.2},
{"d":658,"z":-1.8,"v":2.5},{"d":658,"z":-5.4,"v":2.5},{"d":658,"z":-9.1,"v":2.5},{"d":658,"z":-12.7,"v":2.5},{"d":658,"z":-16.3,"v":2.5},{"d":658,"z":-19.9,"v":2.5},{"d":658,"z":-23.6,"v":2.3},{"d":658,"z":-27.2,"v":1.3},{"d":658,"z":-30.8,"v":0.8},{"d":658,"z":-34.4,"v":0.8},{"d":658,"z":-38,"v":0.4},{"d":658,"z":-41.7,"v":0.2},
{"d":678,"z":-1.8,"v":3.3},{"d":678,"z":-5.4,"v":3.4},{"d":678,"z":-9.1,"v":3.2},{"d":678,"z":-12.7,"v":3},{"d":678,"z":-16.3,"v":3},{"d":678,"z":-19.9,"v":2.8},{"d":678,"z":-23.6,"v":2.3},{"d":678,"z":-27.2,"v":1.3},{"d":678,"z":-30.8,"v":0.8},{"d":678,"z":-34.4,"v":0.6},{"d":678,"z":-38,"v":0.4},{"d":678,"z":-41.7,"v":0.2},
{"d":698,"z":-1.8,"v":2.5},{"d":698,"z":-5.4,"v":2.5},{"d":698,"z":-9.1,"v":2.5},{"d":698,"z":-12.7,"v":2.5},{"d":698,"z":-16.3,"v":2.4},{"d":698,"z":-19.9,"v":2.3},{"d":698,"z":-23.6,"v":2},{"d":698,"z":-27.2,"v":1},{"d":698,"z":-30.8,"v":0.8},{"d":698,"z":-34.4,"v":0.6},{"d":698,"z":-38,"v":0.4},{"d":698,"z":-41.7,"v":0.2},
{"d":717,"z":-1.8,"v":1.9},{"d":717,"z":-5.4,"v":2},{"d":717,"z":-9.1,"v":2},{"d":717,"z":-12.7,"v":2},{"d":717,"z":-16.3,"v":2},{"d":717,"z":-19.9,"v":1.9},{"d":717,"z":-23.6,"v":1.8},{"d":717,"z":-27.2,"v":1},{"d":717,"z":-30.8,"v":0.7},{"d":717,"z":-34.4,"v":0.6},{"d":717,"z":-38,"v":0.3},{"d":717,"z":-41.7,"v":0.15},
{"d":737,"z":-1.8,"v":1.8},{"d":737,"z":-5.4,"v":2.1},{"d":737,"z":-9.1,"v":2.1},{"d":737,"z":-12.7,"v":2},{"d":737,"z":-16.3,"v":1.9},{"d":737,"z":-19.9,"v":1.9},{"d":737,"z":-23.6,"v":1.5},{"d":737,"z":-27.2,"v":0.7},{"d":737,"z":-30.8,"v":0.5},{"d":737,"z":-34.4,"v":0.4},{"d":737,"z":-38,"v":0.3},{"d":737,"z":-41.7,"v":0.15}
]},"mark":{"type":"rect","width":8.3,"height":5.2,"clip":true},"encoding":{
"x":{"field":"d","type":"quantitative","scale":{"domain":[-216,747],"nice":false,"zero":false},"axis":{"values":[1,32,60,91,121,152,182,213,244,274,305,335],"tickCount":30,"labelExpr":"{'1':'J','32':'F','60':'M','91':'A','121':'M','152':'J','182':'J','213':'A','244':'S','274':'O','305':'N','335':'D'}[datum.value]","labelPadding":9,"labelOverlap":false,"labelFlush":false,"labelBound":false}},
"y":{"field":"z","type":"quantitative","scale":{"domain":[-100,0],"nice":false,"zero":false},"axis":{"values":[0,-20,-40,-60,-80],"tickCount":30,"labelExpr":"''+datum.value","labelPadding":7,"labelOverlap":false,"labelFlush":false,"labelOffset":2,"labelBound":false}},
"color":{"field":"v","type":"quantitative","scale":{"domain":[0,0.5,1.5,2.5,3.5,4],"range":["#00008f","#0000ff","#00ffff","#ffff00","#ff0000","#800000"],"clamp":true},"legend":{"title":null,"orient":"none","legendX":427,"legendY":0,"gradientLength":138,"gradientThickness":32,"values":[0,2,4],"gradientStrokeColor":"black","gradientStrokeWidth":1,"labelOffset":4,"labelOverlap":false,"encoding":{"labels":{"baseline":{"value":"middle"}}}}}}},
{"data":{"values":[
{"s":1,"d":1.7,"z":-59},{"s":1,"d":4,"z":-63},{"s":1,"d":5.7,"z":-72.5},{"s":1,"d":7.4,"z":-98},{"s":1,"d":11.5,"z":-99.8},
{"s":2,"d":102.4,"z":-99.8},{"s":2,"d":104,"z":-86},{"s":2,"d":105.7,"z":-42.5},{"s":2,"d":108,"z":-23.2},{"s":2,"d":109.7,"z":-11.1},{"s":2,"d":112.2,"z":-13.5},{"s":2,"d":114.7,"z":-18.4},{"s":2,"d":117.9,"z":-25.6},{"s":2,"d":121.2,"z":-8.7},{"s":2,"d":125.3,"z":-20.8},{"s":2,"d":128.6,"z":-3.9},{"s":2,"d":132.7,"z":-9.9},{"s":2,"d":135.1,"z":-1.4},{"s":2,"d":139.2,"z":-11.1},{"s":2,"d":145,"z":-3.9},{"s":2,"d":150.7,"z":-14.7},{"s":2,"d":157.2,"z":-8.7},{"s":2,"d":165.4,"z":-11.1},{"s":2,"d":169.5,"z":-2.7},{"s":2,"d":177.7,"z":-8.7},{"s":2,"d":185.9,"z":-1.4},{"s":2,"d":194.1,"z":-5.1},{"s":2,"d":202.3,"z":-1.4},{"s":2,"d":210.5,"z":-7.5},{"s":2,"d":216.2,"z":-2.7},{"s":2,"d":222.8,"z":-7.5},{"s":2,"d":229.3,"z":-8.7},{"s":2,"d":235.9,"z":-1.4},{"s":2,"d":243.2,"z":-11.1},{"s":2,"d":253.1,"z":-12.3},{"s":2,"d":259.6,"z":-15.9},{"s":2,"d":267.8,"z":-19.6},{"s":2,"d":273.5,"z":-29.2},{"s":2,"d":288.3,"z":-29.2},{"s":2,"d":296.5,"z":-25.6},{"s":2,"d":303,"z":-34},{"s":2,"d":308.8,"z":-41.3},{"s":2,"d":317,"z":-46.9},{"s":2,"d":325,"z":-46.9},{"s":2,"d":329.2,"z":-43.7},{"s":2,"d":335,"z":-49.8},{"s":2,"d":345.6,"z":-51.7},{"s":2,"d":353.8,"z":-55.8},{"s":2,"d":357.9,"z":-65.5},{"s":2,"d":359.6,"z":-94.4},{"s":2,"d":362,"z":-99.8}
]},"mark":{"type":"line","color":"white","strokeWidth":2.4,"clip":true},"encoding":{"x":{"field":"d","type":"quantitative"},"y":{"field":"z","type":"quantitative"},"detail":{"field":"s"}}}
]}
]}
